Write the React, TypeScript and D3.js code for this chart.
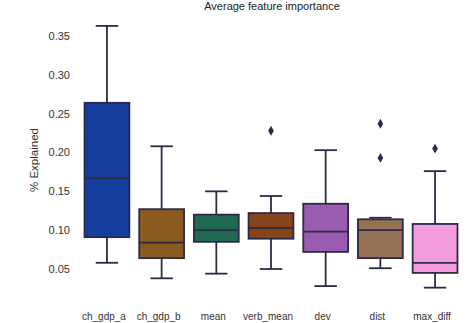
import React from 'react';
import * as d3 from 'd3';

// feature names and box statistics
const categories = ['ch_gdp_a', 'ch_gdp_b', 'mean', 'verb_mean', 'dev', 'dist', 'max_diff'];
const whiskerLow = [0.058, 0.038, 0.044, 0.05, 0.028, 0.051, 0.026];
const q1 = [0.091, 0.064, 0.085, 0.089, 0.072, 0.064, 0.045];
const median = [0.167, 0.084, 0.1, 0.103, 0.098, 0.1, 0.058];
const q3 = [0.264, 0.127, 0.12, 0.122, 0.134, 0.114, 0.108];
const whiskerHigh = [0.363, 0.208, 0.15, 0.144, 0.203, 0.116, 0.176];
const outliers = [[], [], [], [0.228], [], [0.237, 0.193], [0.205]];
const colors = ['#153d9e', '#8a5a1e', '#1f6a52', '#86441a', '#9a5cb0', '#957055', '#f49be0'];
const yTicks = [0.05, 0.1, 0.15, 0.2, 0.25, 0.3, 0.35];

const W = 468;
const H = 323;
const lineColor = '#2b2b45';

const App = () => {
  const x = d3.scaleBand().domain(categories).range([79.6, 462.4]).paddingInner(0.18).paddingOuter(0.09);
  const y = d3.scaleLinear().domain([0.05, 0.35]).range([269, 36]);
  const fmt = d3.format('.2f');
  const bw = x.bandwidth();
  const diamond = d3.symbol().type(d3.symbolDiamond).size(28)();

  return (
    <svg width={W} height={H} style={{ position: 'absolute', left: 0, top: 0, background: '#fff' }}
      fontFamily="'Liberation Sans', Arial, sans-serif">
      <text x={272} y={10} textAnchor="middle" fontSize={11} fill="#222">Average feature importance</text>

      {yTicks.map(t => (
        <text key={t} x={70} y={y(t)} dy="0.35em" textAnchor="end" fontSize={11} fill="#333">{fmt(t)}</text>
      ))}
      <text transform="translate(38,160) rotate(-90)" textAnchor="middle" fontSize={11.5} fill="#333">% Explained</text>

      {categories.map((c, i) => {
        const x0 = x(c) as number;
        const cx = x0 + bw / 2;
        const capW = bw / 2;
        return (
          <g key={c}>
            <line x1={cx} x2={cx} y1={y(q3[i])} y2={y(whiskerHigh[i])} stroke={lineColor} strokeWidth={1.8} />
            <line x1={cx} x2={cx} y1={y(q1[i])} y2={y(whiskerLow[i])} stroke={lineColor} strokeWidth={1.8} />
            <line x1={cx - capW / 2} x2={cx + capW / 2} y1={y(whiskerHigh[i])} y2={y(whiskerHigh[i])} stroke={lineColor} strokeWidth={1.8} />
            <line x1={cx - capW / 2} x2={cx + capW / 2} y1={y(whiskerLow[i])} y2={y(whiskerLow[i])} stroke={lineColor} strokeWidth={1.8} />
            <rect x={x0} y={y(q3[i])} width={bw} height={y(q1[i]) - y(q3[i])} fill={colors[i]} stroke={lineColor} strokeWidth={1.8} />
            <line x1={x0} x2={x0 + bw} y1={y(median[i])} y2={y(median[i])} stroke={lineColor} strokeWidth={1.8} />
            {outliers[i].map((o, j) => (
              <path key={j} d={diamond as string} transform={`translate(${cx},${y(o)})`} fill={lineColor} />
            ))}
            <text x={cx - 3} y={320} textAnchor="middle" fontSize={10} fill="#333">{c}</text>
          </g>
        );
      })}
    </svg>
  );
};

export default App;
